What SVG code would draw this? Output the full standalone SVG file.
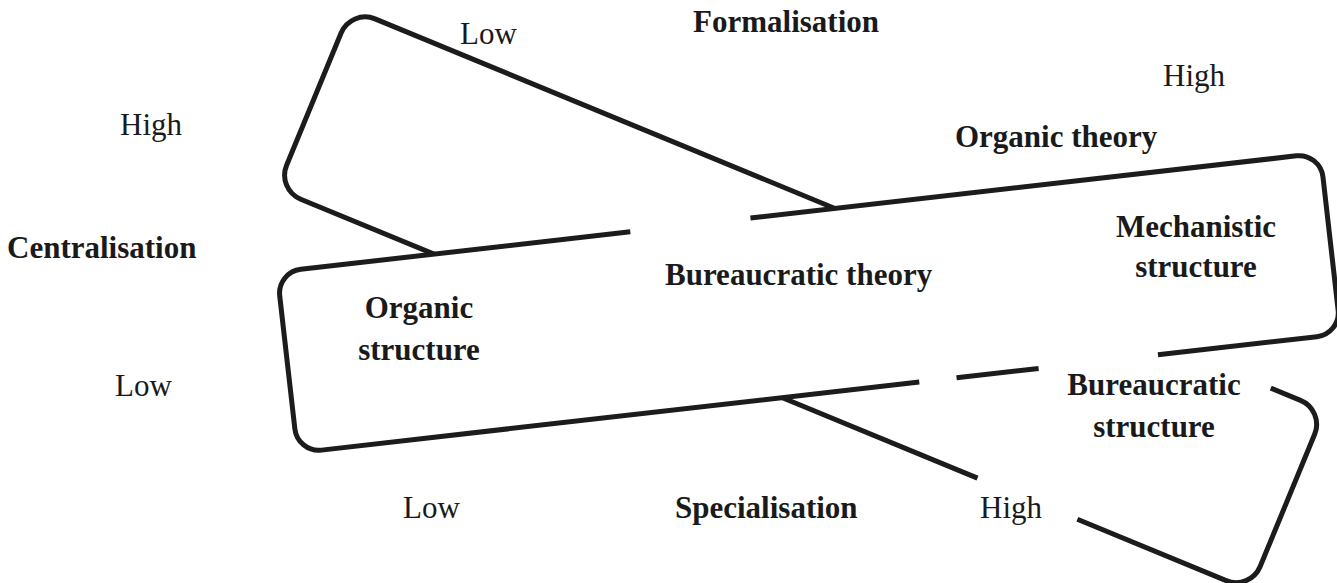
<svg xmlns="http://www.w3.org/2000/svg" width="1337" height="583" viewBox="0 0 1337 583">
  <style>
    .outline { fill: none; stroke: #1c1c1c; stroke-width: 5; stroke-linecap: butt; stroke-linejoin: round; }
    .cover { fill: #ffffff; stroke: none; }
    .axis { font-family: "Liberation Serif", "Times New Roman", serif; font-size: 31px; fill: #1a1a1a; }
    .label { font-family: "Liberation Serif", "Times New Roman", serif; font-size: 31px; font-weight: bold; fill: #1a1a1a; }
  </style>

  <rect width="1337" height="583" fill="#ffffff"/>

  <!-- Diagonal band: runs from low formalisation / high centralisation down to high specialisation -->
  <g id="band-diagonal" transform="translate(351 9) rotate(22.4)">
    <path class="outline" d="M 530 0 H 26 A 26 26 0 0 0 0 26 V 169 A 26 26 0 0 0 26 195 H 180"/>
    <path class="outline" d="M 530 195 H 758"/>
    <path class="outline" d="M 994.8 0 H 1027 A 26 26 0 0 1 1053 26 V 169 A 26 26 0 0 1 1027 195 H 866"/>
  </g>

  <!-- Near-horizontal band, drawn over the diagonal one -->
  <g id="band-horizontal" transform="translate(277 272) rotate(-6.5)">
    <rect class="cover" width="1050" height="182" rx="24"/>
    <path class="outline" d="M 355.6 0 H 24 A 24 24 0 0 0 0 24 V 158 A 24 24 0 0 0 24 182 H 625.7"/>
    <path class="outline" d="M 663.2 182 H 745.8"/>
    <path class="outline" d="M 865.9 182 H 1026 A 24 24 0 0 0 1050 158 V 24 A 24 24 0 0 0 1026 0 H 476.5"/>
  </g>

  <!-- Band labels -->
  <g id="label-organic-theory"><text class="label" x="955" y="147">Organic theory</text></g>
  <g id="label-bureaucratic-theory"><text class="label" x="665" y="285">Bureaucratic theory</text></g>
  <g id="node-mechanistic-structure">
    <text class="label" x="1196" y="237" text-anchor="middle">Mechanistic</text>
    <text class="label" x="1196" y="277" text-anchor="middle">structure</text>
  </g>
  <g id="node-organic-structure">
    <text class="label" x="419" y="318" text-anchor="middle">Organic</text>
    <text class="label" x="419" y="360" text-anchor="middle">structure</text>
  </g>
  <g id="node-bureaucratic-structure">
    <text class="label" x="1154" y="395" text-anchor="middle">Bureaucratic</text>
    <text class="label" x="1154" y="437" text-anchor="middle">structure</text>
  </g>

  <!-- Axis titles and scale ends -->
  <g id="axis-formalisation">
    <text class="label" x="693" y="32">Formalisation</text>
    <text class="axis" x="460" y="44">Low</text>
    <text class="axis" x="1163" y="86">High</text>
  </g>
  <g id="axis-centralisation">
    <text class="label" x="7" y="258">Centralisation</text>
    <text class="axis" x="120" y="135">High</text>
    <text class="axis" x="115" y="396">Low</text>
  </g>
  <g id="axis-specialisation">
    <text class="label" x="675" y="518">Specialisation</text>
    <text class="axis" x="403" y="518">Low</text>
    <text class="axis" x="980" y="518">High</text>
  </g>
</svg>
